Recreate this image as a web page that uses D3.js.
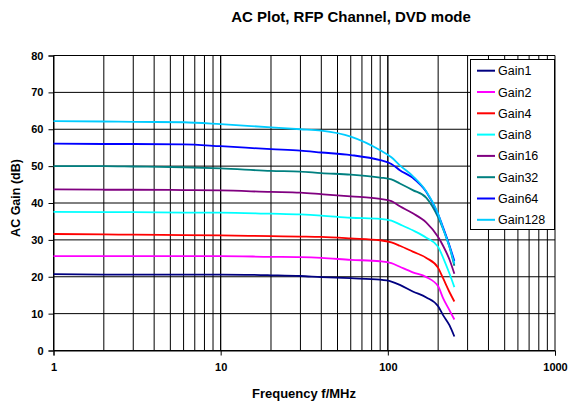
<!DOCTYPE html>
<html>
<head>
<meta charset="utf-8">
<script src="https://cdn.jsdelivr.net/npm/d3@7"></script>
<style>
  body { margin: 0; background: #fff; }
  text { font-family: "Liberation Sans", Arial, sans-serif; }
</style>
</head>
<body>
<script>
const freq = [1, 2, 3, 6, 10, 20, 30, 40, 60, 90, 105, 118, 141, 170, 200, 214, 234, 250];

const gain1   = [20.7, 20.6, 20.6, 20.6, 20.6, 20.4, 20.2, 19.9, 19.6, 19.2, 18.7, 17.8, 16.0, 14.4, 12.0, 9.6, 6.8, 3.8];
const gain2   = [25.6, 25.6, 25.6, 25.6, 25.6, 25.4, 25.3, 25.1, 24.6, 24.2, 23.7, 22.7, 21.2, 19.9, 17.4, 14.2, 10.9, 8.4];
const gain4   = [31.6, 31.5, 31.4, 31.3, 31.2, 31.0, 30.9, 30.8, 30.4, 29.9, 29.3, 28.4, 26.8, 25.1, 22.4, 19.6, 15.8, 13.3];
const gain8   = [37.6, 37.5, 37.5, 37.4, 37.4, 37.1, 36.9, 36.6, 36.0, 35.7, 35.2, 34.2, 32.6, 30.6, 28.1, 25.2, 20.8, 17.2];
const gain16  = [43.7, 43.6, 43.6, 43.5, 43.4, 43.0, 42.8, 42.4, 41.8, 41.1, 40.5, 39.1, 37.2, 34.7, 30.8, 28.4, 24.6, 20.8];
const gain32  = [50.0, 50.0, 49.9, 49.7, 49.4, 48.7, 48.5, 48.1, 47.7, 46.9, 46.4, 45.3, 43.5, 41.4, 36.1, 33.0, 28.0, 23.0];
const gain64  = [56.1, 56.0, 56.0, 55.9, 55.4, 54.6, 54.2, 53.7, 53.0, 51.6, 50.6, 48.9, 46.8, 43.0, 36.9, 33.4, 28.4, 24.3];
const gain128 = [62.2, 62.1, 62.0, 61.9, 61.4, 60.5, 60.0, 59.6, 58.0, 54.3, 52.4, 50.2, 47.3, 43.1, 37.0, 33.1, 28.1, 23.5];

const names  = ['Gain1', 'Gain2', 'Gain4', 'Gain8', 'Gain16', 'Gain32', 'Gain64', 'Gain128'];
const colors = ['#000080', '#ff00ff', '#ff0000', '#00ffff', '#800080', '#008080', '#0000ff', '#00ccff'];
const series = [gain1, gain2, gain4, gain8, gain16, gain32, gain64, gain128];

const xTicks = [1, 10, 100, 1000];
const yTicks = [0, 10, 20, 30, 40, 50, 60, 70, 80];

const w = 570, h = 404;
const pl = 53.5, pr = 555, pt = 55.5, pb = 350.5;

const x = d3.scaleLog().domain([1, 1000]).range([pl, pr]);
const y = d3.scaleLinear().domain([0, 80]).range([pb, pt]);

const svg = d3.select('body').append('svg')
  .attr('width', w)
  .attr('height', h);

// grid
const minor = [];
[1, 10, 100].forEach(d => { for (let k = 1; k <= 10; k++) minor.push(d * k); });
svg.append('g').selectAll('line')
  .data(minor)
  .enter().append('line')
  .attr('x1', d => x(d)).attr('x2', d => x(d))
  .attr('y1', pt).attr('y2', pb)
  .attr('stroke', '#000').attr('stroke-width', 1);
svg.append('g').selectAll('line')
  .data(yTicks)
  .enter().append('line')
  .attr('x1', pl).attr('x2', pr)
  .attr('y1', d => y(d)).attr('y2', d => y(d))
  .attr('stroke', '#000').attr('stroke-width', 1);

// axes
const xAxis = d3.axisBottom(x).tickValues(xTicks).tickFormat(d3.format('d')).tickSize(5).tickPadding(8);
const yAxis = d3.axisLeft(y).tickValues(yTicks).tickSize(5).tickPadding(5);

const gx = svg.append('g').attr('transform', `translate(0, ${pb})`).call(xAxis);
const gy = svg.append('g').attr('transform', `translate(${pl}, 0)`).call(yAxis);
[gx, gy].forEach(g => {
  g.select('.domain').attr('stroke', '#000');
  g.selectAll('text').attr('font-size', 11).attr('font-weight', 'bold')
    .attr('font-family', '"Liberation Sans", Arial, sans-serif').attr('fill', '#000');
});

// curves
const line = d3.line()
  .x((d, i) => x(freq[i]))
  .y(d => y(d))
  .curve(d3.curveMonotoneX);

svg.append('g').selectAll('path')
  .data(series)
  .enter().append('path')
  .attr('d', d => line(d))
  .attr('fill', 'none')
  .attr('stroke', (d, i) => colors[i])
  .attr('stroke-width', 1.8);

// titles
svg.append('text')
  .attr('x', 351).attr('y', 22)
  .attr('text-anchor', 'middle')
  .attr('font-size', 15).attr('font-weight', 'bold')
  .text('AC Plot, RFP Channel, DVD mode');

svg.append('text')
  .attr('x', 304).attr('y', 398)
  .attr('text-anchor', 'middle')
  .attr('font-size', 13).attr('font-weight', 'bold')
  .text('Frequency f/MHz');

svg.append('text')
  .attr('transform', 'translate(20, 198) rotate(-90)')
  .attr('text-anchor', 'middle')
  .attr('font-size', 12.5).attr('font-weight', 'bold')
  .text('AC Gain (dB)');

// legend
const lg = svg.append('g');
lg.append('rect')
  .attr('x', 470.5).attr('y', 59.5)
  .attr('width', 84).attr('height', 170)
  .attr('fill', '#fff').attr('stroke', '#000');

const item = lg.selectAll('g.item')
  .data(names)
  .enter().append('g')
  .attr('transform', (d, i) => `translate(0, ${70.7 + i * 21.3})`);
item.append('line')
  .attr('x1', 477).attr('x2', 495)
  .attr('stroke', (d, i) => colors[i]).attr('stroke-width', 2);
item.append('text')
  .attr('x', 498).attr('y', 4.5)
  .attr('font-size', 12.5)
  .text(d => d);
</script>
</body>
</html>
